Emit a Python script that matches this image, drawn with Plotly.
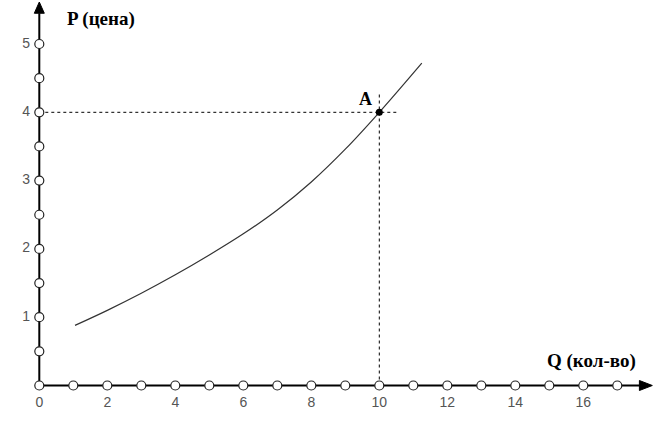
import plotly.graph_objects as go

# Data
q_curve = [1.05, 2, 3, 4, 5, 6, 7, 8, 9, 10, 11.25]
p_curve = [0.88, 1.1, 1.35, 1.62, 1.91, 2.22, 2.57, 2.98, 3.46, 4.0, 4.72]
x_circles = list(range(0, 18))
y_circles = [0.5, 1, 1.5, 2, 2.5, 3, 3.5, 4, 4.5, 5]
x_tick_vals = [0, 2, 4, 6, 8, 10, 12, 14, 16]
y_tick_vals = [1, 2, 3, 4, 5]
point_a = (10, 4)

X0PX, XS = 39.3, 34.0
Y0PX, YS = 385.5, 68.3
W, H = 670, 427
xr = [-X0PX / XS, (W - X0PX) / XS]
yr = [(Y0PX - H) / YS, Y0PX / YS]

fig = go.Figure()

# axes lines
x_end = 17.67
y_end = 5.45
fig.add_trace(go.Scatter(x=[0, x_end], y=[0, 0], mode="lines",
                         line=dict(color="black", width=2), hoverinfo="skip"))
fig.add_trace(go.Scatter(x=[0, 0], y=[0, y_end], mode="lines",
                         line=dict(color="black", width=2), hoverinfo="skip"))

# arrowheads
fig.add_shape(type="path", xref="x", yref="y",
              path=f"M {x_end-0.02},{-5/YS} L {18.03},0 L {x_end-0.02},{5/YS} Z",
              fillcolor="black", line=dict(color="black", width=1))
fig.add_shape(type="path", xref="x", yref="y",
              path=f"M {-5/XS},{y_end} L 0,{5.615} L {5/XS},{y_end} Z",
              fillcolor="black", line=dict(color="black", width=1))

# dotted guide lines
fig.add_trace(go.Scatter(x=[0, 10.55], y=[point_a[1], point_a[1]], mode="lines",
                         line=dict(color="black", width=1, dash="dot"), hoverinfo="skip"))
fig.add_trace(go.Scatter(x=[point_a[0], point_a[0]], y=[0, 4.30], mode="lines",
                         line=dict(color="black", width=1, dash="dot"), hoverinfo="skip"))

# curve
fig.add_trace(go.Scatter(x=q_curve, y=p_curve, mode="lines", line_shape="spline",
                         line=dict(color="#333333", width=1.2), hoverinfo="skip"))

# circles on axes
fig.add_trace(go.Scatter(x=x_circles, y=[0] * len(x_circles), mode="markers",
                         marker=dict(size=9, color="white", line=dict(color="#222", width=1.2)),
                         hoverinfo="skip"))
fig.add_trace(go.Scatter(x=[0] * len(y_circles), y=y_circles, mode="markers",
                         marker=dict(size=9, color="white", line=dict(color="#222", width=1.2)),
                         hoverinfo="skip"))

# point A
fig.add_trace(go.Scatter(x=[point_a[0]], y=[point_a[1]], mode="markers",
                         marker=dict(size=7, color="black"), hoverinfo="skip"))

# tick labels
tick_font = dict(family="Liberation Sans, Arial", size=14, color="#555555")
fig.add_trace(go.Scatter(x=x_tick_vals, y=[-0.27] * len(x_tick_vals), mode="text",
                         text=[str(v) for v in x_tick_vals], textfont=tick_font,
                         textposition="middle center", hoverinfo="skip"))
fig.add_trace(go.Scatter(x=[-0.39] * len(y_tick_vals), y=y_tick_vals, mode="text",
                         text=[str(v) for v in y_tick_vals], textfont=tick_font,
                         textposition="middle center", hoverinfo="skip"))

title_font = dict(family="Liberation Serif, Times New Roman", size=19, color="black")
fig.add_annotation(x=(101 - X0PX) / XS, y=(Y0PX - 19) / YS, text="<b>P (цена)</b>",
                   showarrow=False, font=title_font, xanchor="center", yanchor="middle")
fig.add_annotation(x=(591 - X0PX) / XS, y=(Y0PX - 361) / YS, text="<b>Q (кол-во)</b>",
                   showarrow=False, font=title_font, xanchor="center", yanchor="middle")
fig.add_annotation(x=(365 - X0PX) / XS, y=(Y0PX - 99) / YS, text="<b>A</b>",
                   showarrow=False, font=dict(family="Liberation Serif", size=18, color="black"),
                   xanchor="center", yanchor="middle")

fig.update_layout(
    width=W, height=H, margin=dict(l=0, r=0, t=0, b=0),
    paper_bgcolor="white", plot_bgcolor="white", showlegend=False,
    xaxis=dict(range=xr, visible=False, fixedrange=True),
    yaxis=dict(range=yr, visible=False, fixedrange=True),
)
fig.write_html("out.html", config={"displayModeBar": False},
               post_script="document.body.style.margin='0';document.body.style.overflow='hidden';")
